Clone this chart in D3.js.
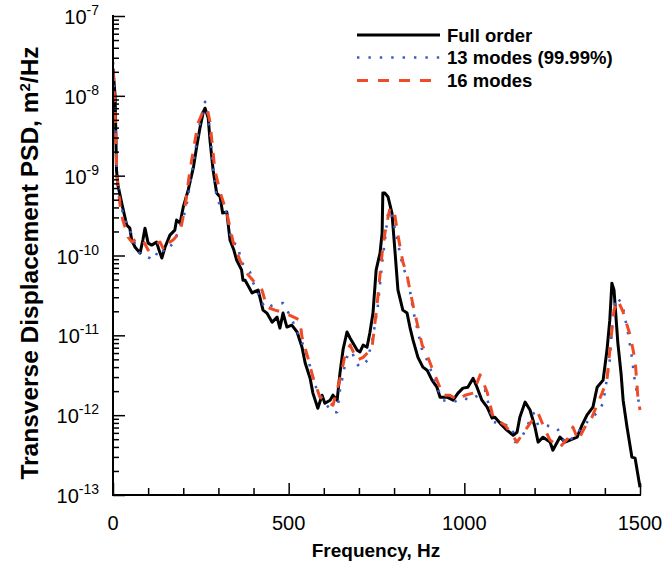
<!DOCTYPE html>
<html><head><meta charset="utf-8">
<script src="https://cdn.jsdelivr.net/npm/d3@7"></script>
<style>body{margin:0;background:#fff}svg{display:block}text{font-family:Arial,"Liberation Sans",sans-serif;fill:#000}</style>
</head><body>
<script>
// ---- data ----
const freqFull = [0,6,10,14,25,39,48,53,63,77,85,91,100,110,124,131,139,148,162,176,181,191,200,214,229,238,248,257,262,271,276,285,295,305,312,324,333,344,352,366,370,376,396,413,427,438,453,467,475,484,495,509,524,538,547,561,569,583,595,603,618,626,638,646,655,666,675,683,695,703,712,723,731,740,749,760,766,768,774,783,794,803,811,825,837,845,854,868,882,894,908,922,931,951,968,982,996,1010,1025,1036,1050,1065,1079,1087,1102,1121,1139,1150,1158,1173,1187,1201,1210,1224,1244,1252,1272,1287,1321,1335,1349,1366,1378,1395,1406,1414,1420,1426,1437,1446,1452,1463,1477,1486,1500];
const psdFull = [2.2e-8,1.0e-8,1.17e-9,7.6e-10,4.5e-10,2.4e-10,2.2e-10,1.56e-10,1.27e-10,1.07e-10,1.56e-10,2.2e-10,1.43e-10,1.35e-10,1.47e-10,1.17e-10,9.3e-11,1.27e-10,1.8e-10,2.08e-10,2.78e-10,2.55e-10,4.05e-10,6.6e-10,1.28e-9,2.28e-9,4.06e-9,6.3e-9,7.0e-9,5.3e-9,2.8e-9,1.17e-9,6.05e-10,5.4e-10,3.4e-10,3.5e-10,1.56e-10,1.17e-10,8.75e-11,6.6e-11,4.9e-11,4.9e-11,3.4e-11,3.7e-11,2.07e-11,1.9e-11,1.46e-11,1.69e-11,1.23e-11,1.9e-11,1.27e-11,1.34e-11,1.1e-11,7.1e-12,4.5e-12,2.9e-12,1.89e-12,1.22e-12,1.78e-12,1.41e-12,1.54e-12,1.78e-12,1.54e-12,3.36e-12,6.7e-12,1.1e-11,9.2e-12,8.0e-12,6.5e-12,6.2e-12,7.55e-12,7.1e-12,1.07e-11,1.9e-11,6.6e-11,1.07e-10,1.91e-10,6.05e-10,6.05e-10,5.4e-10,3.4e-10,1.07e-10,3.7e-11,2.07e-11,1.9e-11,1.27e-11,8.7e-12,5.3e-12,4.0e-12,3.66e-12,2.75e-12,2.24e-12,1.68e-12,1.68e-12,1.54e-12,1.89e-12,2.18e-12,2.24e-12,2.9e-12,2.24e-12,1.54e-12,1.26e-12,9.2e-13,9.4e-13,7.9e-13,6.5e-13,5.6e-13,6.1e-13,9.4e-13,1.46e-12,1.16e-12,7.1e-13,4.6e-13,5.3e-13,4.6e-13,3.64e-13,5.3e-13,4.6e-13,5.3e-13,7.5e-13,1.0e-12,1.26e-12,2.24e-12,2.75e-12,6.5e-12,1.55e-11,4.5e-11,3.7e-11,8.0e-12,3.36e-12,1.54e-12,7.1e-13,2.98e-13,2.9e-13,1.25e-13];

const freq13 = [0,6,11,20,28,40,55,68,82,105,114,134,148,171,185,196,205,211,230,240,250,262,270,278,283,290,297,310,322,338,355,365,390,398,418,432,455,484,503,536,556,575,586,605,623,638,646,660,675,690,703,725,731,740,754,766,774,783,788,797,811,825,837,845,854,865,880,894,908,922,939,968,1000,1016,1040,1059,1073,1082,1105,1136,1144,1164,1180,1197,1210,1230,1264,1287,1301,1343,1358,1378,1395,1414,1423,1432,1449,1466,1477,1486,1500];
const psd13 = [2.65e-8,6.6e-9,1.17e-9,4.9e-10,3.4e-10,2.4e-10,1.8e-10,1.17e-10,1.0e-10,9.3e-11,8.75e-11,1.24e-10,1.1e-10,1.43e-10,1.96e-10,2.78e-10,3.5e-10,4.7e-10,1.57e-9,2.96e-9,5.3e-9,8.4e-9,5.7e-9,2.96e-9,1.48e-9,7.6e-10,4.9e-10,4.05e-10,3.5e-10,1.47e-10,1.35e-10,8.3e-11,6.2e-11,4.65e-11,3.0e-11,2.19e-11,2.39e-11,2.54e-11,1.79e-11,8.7e-12,4.9e-12,2.38e-12,1.89e-12,1.41e-12,1.09e-12,1.09e-12,2.06e-12,4.2e-12,7.55e-12,4.6e-12,4.0e-12,4.9e-12,6.5e-12,9.5e-12,2.39e-11,8.0e-11,1.56e-10,3.4e-10,3.7e-10,2.78e-10,1.43e-10,7.2e-11,5.4e-11,3.7e-11,2.07e-11,1.27e-11,6.5e-12,4.9e-12,3.36e-12,2.24e-12,1.54e-12,1.46e-12,1.63e-12,1.54e-12,1.78e-12,2.06e-12,1.16e-12,8.2e-13,7.9e-13,7.1e-13,4.6e-13,5.3e-13,7.5e-13,1.06e-12,7.5e-13,7.5e-13,6.9e-13,4.46e-13,4.87e-13,7.5e-13,9.2e-13,1.06e-12,1.41e-12,4.9e-12,1.79e-11,3.0e-11,2.54e-11,1.07e-11,5.3e-12,2.52e-12,1.22e-12];

const freq16 = [0,6,11,20,28,43,54,68,85,100,114,134,145,157,171,191,205,219,242,256,268,276,290,305,324,342,361,381,398,424,438,461,490,532,538,555,569,589,612,626,640,652,660,675,695,712,737,751,766,774,788,800,811,825,837,845,854,865,880,894,908,922,939,959,982,1002,1025,1045,1065,1082,1116,1150,1187,1210,1230,1244,1272,1295,1309,1324,1349,1363,1392,1406,1415,1426,1437,1452,1472,1486,1494,1500];
const psd16 = [2.1e-8,6.6e-9,1.02e-9,4.3e-10,2.78e-10,1.7e-10,1.47e-10,1.65e-10,1.56e-10,1.17e-10,1.35e-10,1.47e-10,1.17e-10,1.43e-10,1.56e-10,1.96e-10,4.05e-10,1.17e-9,4.56e-9,6.3e-9,7.0e-9,4.7e-9,1.17e-9,6.2e-10,3.4e-10,1.47e-10,8.75e-11,6.0e-11,4.9e-11,3.7e-11,2.26e-11,2.07e-11,1.9e-11,1.55e-11,9.5e-12,5.2e-12,3.0e-12,1.68e-12,1.46e-12,1.33e-12,2.24e-12,3.66e-12,5.65e-12,7.55e-12,4.9e-12,5.3e-12,6.9e-12,2.26e-11,1.07e-10,1.91e-10,3.9e-10,3.7e-10,1.8e-10,8.3e-11,5.7e-11,3.7e-11,2.39e-11,1.46e-11,7.55e-12,5.65e-12,3.9e-12,2.75e-12,1.78e-12,1.78e-12,1.54e-12,1.78e-12,1.89e-12,3.2e-12,1.94e-12,9.4e-13,7.5e-13,4.6e-13,7.9e-13,1.06e-12,6.5e-13,4.87e-13,3.97e-13,5.15e-13,7.1e-13,4.87e-13,7.9e-13,9.4e-13,1.89e-12,2.75e-12,7.1e-12,2.07e-11,2.76e-11,1.95e-11,1.0e-11,4.9e-12,1.68e-12,1.16e-12];

const seriesNames = ["Full order", "13 modes (99.99%)", "16 modes"];
const xTickValues = [0, 500, 1000, 1500];
const xMinorTicks = [100,200,300,400,600,700,800,900,1100,1200,1300,1400];
const yTickExponents = [-7, -8, -9, -10, -11, -12, -13];
const xTitle = "Frequency, Hz";
const yTitle = "Transverse Displacement PSD, m";

// ---- drawing ----
const W = 664, H = 566;
const svg = d3.select("body").append("svg").attr("width", W).attr("height", H);
const x = d3.scaleLinear().domain([0, 1500]).range([113, 640]);
const y = d3.scaleLog().domain([1e-13, 1e-7]).range([495, 16]);

svg.append("clipPath").attr("id", "clip").append("rect")
  .attr("x", 113).attr("y", 14).attr("width", 530).attr("height", 483);

const styles = [
  {color: "#000000", width: 3, dash: null},
  {color: "#3b5bc4", width: 2.6, dash: "2.4,9"},
  {color: "#ef4b26", width: 3, dash: "11,10"}
];
const series = [
  d3.zip(freqFull, psdFull),
  d3.zip(freq13, psd13),
  d3.zip(freq16, psd16)
];
const line = d3.line().x(d => x(d[0])).y(d => y(d[1]));
const g = svg.append("g").attr("clip-path", "url(#clip)");
series.forEach((s, i) => {
  g.append("path").datum(s).attr("d", line)
    .attr("fill", "none").attr("stroke", styles[i].color)
    .attr("stroke-width", styles[i].width)
    .attr("stroke-linejoin", "round")
    .attr("stroke-dasharray", styles[i].dash);
});

// axes
const yMinor = [];
for (let e = -13; e < -7; e++) for (let m = 2; m <= 9; m++) yMinor.push(m * Math.pow(10, e));
const yMajorVals = yTickExponents.map(e => Math.pow(10, e));

const axL = svg.append("g").attr("transform", "translate(113,0)");
axL.call(d3.axisRight(y).tickValues(yMajorVals).tickSize(12).tickFormat(""));
axL.append("g").call(d3.axisRight(y).tickValues(yMinor).tickSize(6).tickFormat(""));
const axB = svg.append("g").attr("transform", "translate(0,495)");
axB.call(d3.axisTop(x).tickValues(xTickValues).tickSize(12).tickFormat(""));
axB.append("g").call(d3.axisTop(x).tickValues(xMinorTicks).tickSize(7).tickFormat(""));
svg.selectAll(".domain").remove();
svg.selectAll(".tick line").attr("stroke", "#000").attr("stroke-width", 1.5);
svg.append("line").attr("x1", 113).attr("x2", 113).attr("y1", 15).attr("y2", 496).attr("stroke", "#000").attr("stroke-width", 2);
svg.append("line").attr("x1", 112).attr("x2", 641).attr("y1", 495).attr("y2", 495).attr("stroke", "#000").attr("stroke-width", 2);

// tick labels
xTickValues.forEach(v => {
  svg.append("text").attr("x", x(v)).attr("y", 530).attr("text-anchor", "middle")
    .attr("font-size", 20).text(v);
});
yTickExponents.forEach(e => {
  const t = svg.append("text").attr("x", 99).attr("y", y(Math.pow(10, e)) + 8)
    .attr("text-anchor", "end").attr("font-size", 20);
  t.append("tspan").text("10");
  t.append("tspan").attr("dy", -9).attr("font-size", 14).text(String(e));
});

// titles
svg.append("text").attr("x", 376).attr("y", 557).attr("text-anchor", "middle")
  .attr("font-size", 19).attr("font-weight", "bold").text(xTitle);
const yt = svg.append("text").attr("transform", "translate(38,263) rotate(-90)")
  .attr("text-anchor", "middle").attr("font-size", 24.5).attr("font-weight", "bold");
yt.append("tspan").text(yTitle);
yt.append("tspan").attr("dy", -8).attr("font-size", 15).text("2");
yt.append("tspan").attr("dy", 8).text("/Hz");

// legend
const legY = [35, 57.5, 80.5];
seriesNames.forEach((n, i) => {
  svg.append("line").attr("x1", 357).attr("x2", 440).attr("y1", legY[i]).attr("y2", legY[i])
    .attr("stroke", styles[i].color).attr("stroke-width", styles[i].width)
    .attr("stroke-dasharray", styles[i].dash);
  svg.append("text").attr("x", 447).attr("y", legY[i] + 6.5).attr("font-size", 18.5)
    .attr("font-weight", "bold").text(n);
});
</script>
</body></html>
